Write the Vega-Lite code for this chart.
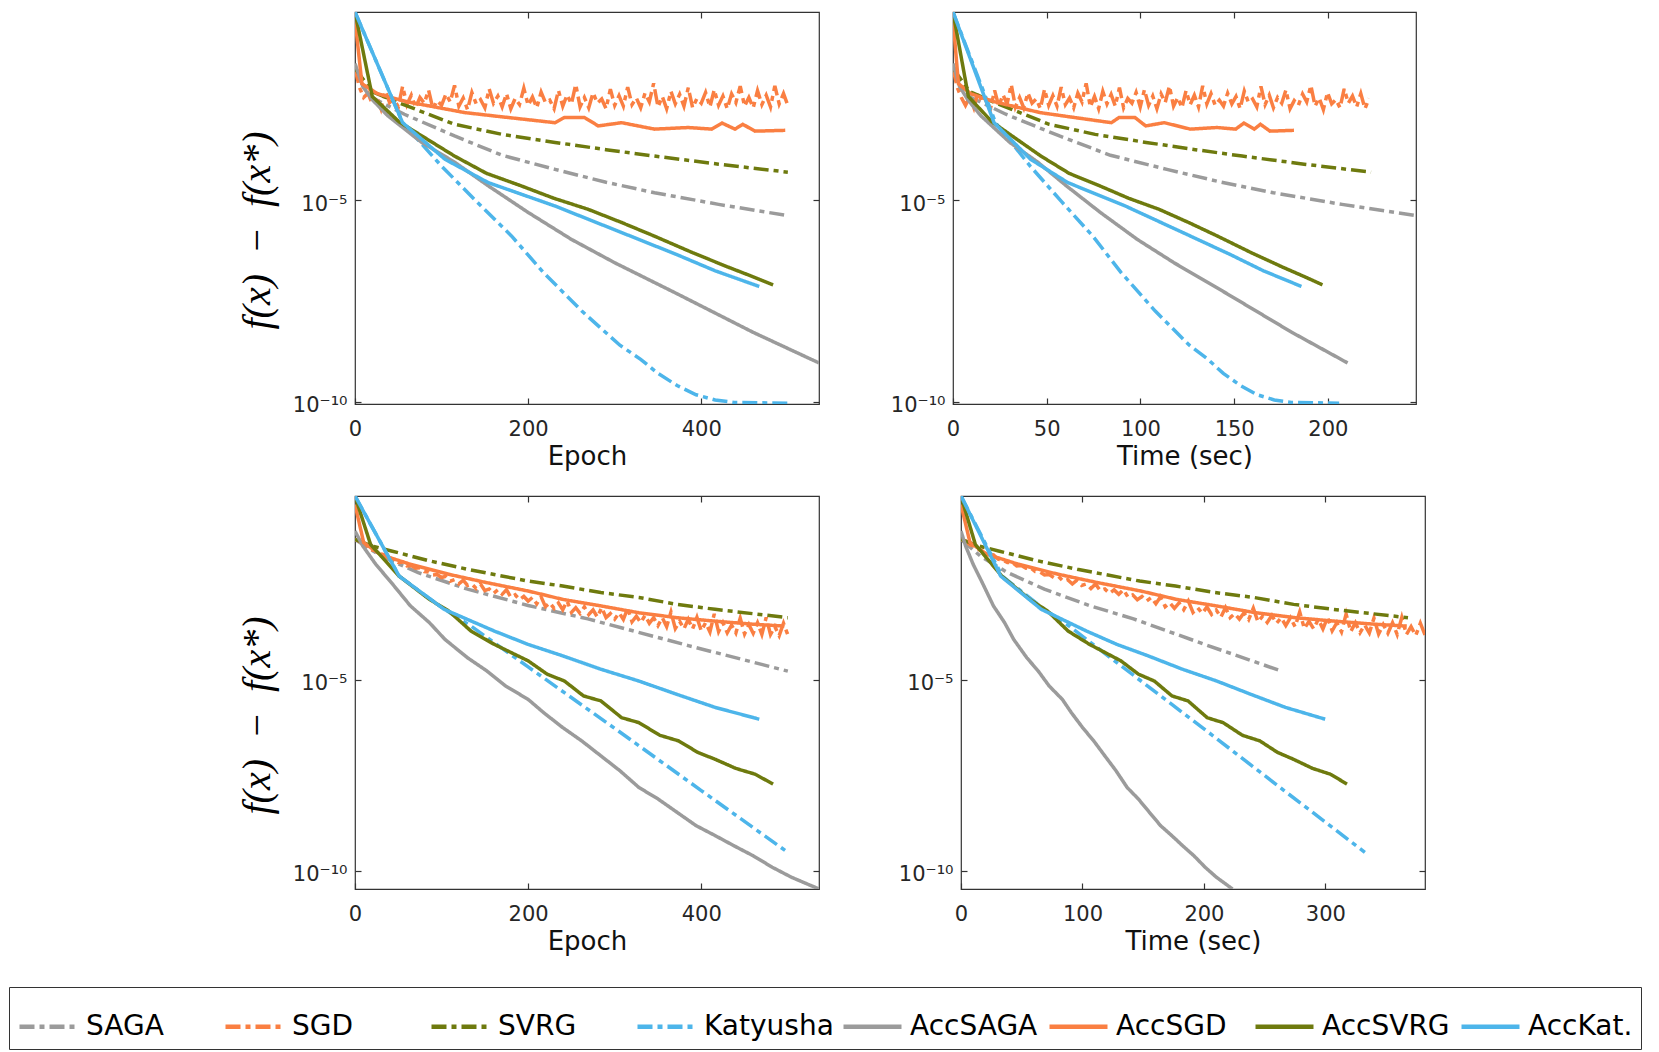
{
"$schema": "https://vega.github.io/schema/vega-lite/v6.json",
"background": "white",
"padding": {"left": 8, "top": 10, "right": 0, "bottom": 0},
"config": {
  "font": "DejaVu Sans",
  "view": {"stroke": "#333333", "strokeWidth": 1.2},
  "axis": {"grid": false, "domain": false, "tickColor": "#333333", "tickSize": -6, "tickWidth": 1.2, "labelFont": "DejaVu Sans", "labelFontSize": 21, "labelColor": "#262626", "labelFlush": false, "titleFont": "DejaVu Sans", "titleFontSize": 26, "titleFontWeight": "normal", "titleColor": "#111111"},
  "axisX": {"labelPadding": 20, "titlePadding": 4},
  "axisY": {"labelPadding": 14, "labelOffset": 4},
  "legend": {"orient": "none", "legendX": -346, "legendY": 975, "direction": "horizontal", "columns": 8, "title": null, "symbolType": "stroke", "symbolSize": 3364, "symbolStrokeWidth": 4.5, "labelFontSize": 28, "labelFont": "DejaVu Sans", "labelColor": "#000000", "labelOffset": 6, "columnPadding": 0, "gridAlign": "all", "strokeColor": "#333333", "fillColor": "#ffffff", "padding": 8, "labelLimit": 300}
},
"datasets": {
"p1": [
{"m":"SAGA","x":0,"y":1.905e-2},{"m":"SAGA","x":9,"y":6.761e-3},{"m":"SAGA","x":20,"y":3.548e-3},{"m":"SAGA","x":57,"y":1.380e-3},{"m":"SAGA","x":115,"y":3.981e-4},{"m":"SAGA","x":170,"y":1.318e-4},{"m":"SAGA","x":231,"y":5.888e-5},{"m":"SAGA","x":290,"y":2.818e-5},{"m":"SAGA","x":346,"y":1.549e-5},{"m":"SAGA","x":420,"y":7.943e-6},{"m":"SAGA","x":500,"y":4.169e-6},
{"m":"SGD","x":0,"y":1.905e-2},{"m":"SGD","x":5,"y":6.5e-3},{"m":"SGD","x":10,"y":3.6e-3},{"m":"SGD","x":15,"y":4.6e-3},{"m":"SGD","x":20,"y":2.5e-3},{"m":"SGD","x":25,"y":3.8e-3},{"m":"SGD","x":30,"y":1.9e-3},{"m":"SGD","x":35,"y":5.2e-3},{"m":"SGD","x":40,"y":2.7e-3},{"m":"SGD","x":45,"y":3.3e-3},{"m":"SGD","x":50,"y":2.1e-3},{"m":"SGD","x":55,"y":6.8e-3},{"m":"SGD","x":60,"y":2.4e-3},{"m":"SGD","x":65,"y":4.1e-3},{"m":"SGD","x":70,"y":2.0e-3},{"m":"SGD","x":75,"y":3.6e-3},{"m":"SGD","x":80,"y":2.6e-3},{"m":"SGD","x":85,"y":5.5e-3},{"m":"SGD","x":90,"y":1.9e-3},{"m":"SGD","x":95,"y":3.0e-3},{"m":"SGD","x":100,"y":2.3e-3},{"m":"SGD","x":105,"y":4.4e-3},{"m":"SGD","x":110,"y":2.8e-3},{"m":"SGD","x":115,"y":7.2e-3},{"m":"SGD","x":120,"y":2.2e-3},{"m":"SGD","x":125,"y":3.5e-3},{"m":"SGD","x":130,"y":1.8e-3},{"m":"SGD","x":135,"y":4.8e-3},{"m":"SGD","x":140,"y":2.5e-3},{"m":"SGD","x":145,"y":3.2e-3},{"m":"SGD","x":150,"y":2.0e-3},{"m":"SGD","x":155,"y":5.9e-3},{"m":"SGD","x":160,"y":2.6e-3},{"m":"SGD","x":165,"y":3.9e-3},{"m":"SGD","x":170,"y":2.1e-3},{"m":"SGD","x":175,"y":4.5e-3},{"m":"SGD","x":180,"y":1.9e-3},{"m":"SGD","x":185,"y":3.4e-3},{"m":"SGD","x":190,"y":2.4e-3},{"m":"SGD","x":195,"y":6.1e-3},{"m":"SGD","x":200,"y":2.3e-3},{"m":"SGD","x":205,"y":3.7e-3},{"m":"SGD","x":210,"y":2.0e-3},{"m":"SGD","x":215,"y":4.9e-3},{"m":"SGD","x":220,"y":2.7e-3},{"m":"SGD","x":225,"y":3.1e-3},{"m":"SGD","x":230,"y":1.9e-3},{"m":"SGD","x":235,"y":5.4e-3},{"m":"SGD","x":240,"y":2.2e-3},{"m":"SGD","x":245,"y":4.2e-3},{"m":"SGD","x":250,"y":2.5e-3},{"m":"SGD","x":255,"y":7.6e-3},{"m":"SGD","x":260,"y":2.1e-3},{"m":"SGD","x":265,"y":3.6e-3},{"m":"SGD","x":270,"y":2.0e-3},{"m":"SGD","x":275,"y":4.7e-3},{"m":"SGD","x":280,"y":2.6e-3},{"m":"SGD","x":285,"y":3.3e-3},{"m":"SGD","x":290,"y":1.9e-3},{"m":"SGD","x":295,"y":5.8e-3},{"m":"SGD","x":300,"y":2.3e-3},{"m":"SGD","x":305,"y":4.0e-3},{"m":"SGD","x":310,"y":2.2e-3},{"m":"SGD","x":315,"y":6.5e-3},{"m":"SGD","x":320,"y":2.4e-3},{"m":"SGD","x":325,"y":3.5e-3},{"m":"SGD","x":330,"y":2.0e-3},{"m":"SGD","x":335,"y":4.6e-3},{"m":"SGD","x":340,"y":2.8e-3},{"m":"SGD","x":345,"y":8.1e-3},{"m":"SGD","x":350,"y":2.1e-3},{"m":"SGD","x":355,"y":3.8e-3},{"m":"SGD","x":360,"y":1.9e-3},{"m":"SGD","x":365,"y":5.1e-3},{"m":"SGD","x":370,"y":2.5e-3},{"m":"SGD","x":375,"y":4.3e-3},{"m":"SGD","x":380,"y":2.2e-3},{"m":"SGD","x":385,"y":6.3e-3},{"m":"SGD","x":390,"y":2.0e-3},{"m":"SGD","x":395,"y":3.4e-3},{"m":"SGD","x":400,"y":2.6e-3},{"m":"SGD","x":405,"y":4.8e-3},{"m":"SGD","x":410,"y":2.1e-3},{"m":"SGD","x":415,"y":5.6e-3},{"m":"SGD","x":420,"y":2.3e-3},{"m":"SGD","x":425,"y":3.9e-3},{"m":"SGD","x":430,"y":1.9e-3},{"m":"SGD","x":435,"y":4.4e-3},{"m":"SGD","x":440,"y":2.7e-3},{"m":"SGD","x":445,"y":6.9e-3},{"m":"SGD","x":450,"y":2.2e-3},{"m":"SGD","x":455,"y":3.6e-3},{"m":"SGD","x":460,"y":2.0e-3},{"m":"SGD","x":465,"y":5.3e-3},{"m":"SGD","x":470,"y":2.4e-3},{"m":"SGD","x":475,"y":4.1e-3},{"m":"SGD","x":480,"y":2.1e-3},{"m":"SGD","x":485,"y":7.0e-3},{"m":"SGD","x":490,"y":2.5e-3},{"m":"SGD","x":495,"y":4.5e-3},{"m":"SGD","x":500,"y":2.3e-3},
{"m":"SVRG","x":0,"y":1.905e-2},{"m":"SVRG","x":20,"y":5.012e-3},{"m":"SVRG","x":50,"y":2.692e-3},{"m":"SVRG","x":115,"y":7.762e-4},{"m":"SVRG","x":170,"y":4.365e-4},{"m":"SVRG","x":231,"y":2.754e-4},{"m":"SVRG","x":290,"y":1.820e-4},{"m":"SVRG","x":346,"y":1.259e-4},{"m":"SVRG","x":420,"y":7.943e-5},{"m":"SVRG","x":500,"y":5.012e-5},
{"m":"Katyusha","x":0,"y":0.4786},{"m":"Katyusha","x":55,"y":8.511e-4},{"m":"Katyusha","x":100,"y":7.079e-5},{"m":"Katyusha","x":140,"y":9.550e-6},{"m":"Katyusha","x":181,"y":1.288e-6},{"m":"Katyusha","x":218,"y":1.585e-7},{"m":"Katyusha","x":262,"y":1.778e-8},{"m":"Katyusha","x":306,"y":2.512e-9},{"m":"Katyusha","x":330,"y":1.122e-9},{"m":"Katyusha","x":350,"y":5.012e-10},{"m":"Katyusha","x":372,"y":2.512e-10},{"m":"Katyusha","x":394,"y":1.479e-10},{"m":"Katyusha","x":416,"y":1.096e-10},{"m":"Katyusha","x":438,"y":9.550e-11},{"m":"Katyusha","x":500,"y":9.120e-11},
{"m":"AccSAGA","x":0,"y":2.512e-2},{"m":"AccSAGA","x":9,"y":6.761e-3},{"m":"AccSAGA","x":20,"y":3.162e-3},{"m":"AccSAGA","x":38,"y":1.259e-3},{"m":"AccSAGA","x":77,"y":2.754e-4},{"m":"AccSAGA","x":115,"y":8.913e-5},{"m":"AccSAGA","x":154,"y":2.291e-5},{"m":"AccSAGA","x":200,"y":5.012e-6},{"m":"AccSAGA","x":250,"y":1.072e-6},{"m":"AccSAGA","x":300,"y":2.818e-7},{"m":"AccSAGA","x":372,"y":4.786e-8},{"m":"AccSAGA","x":416,"y":1.585e-8},{"m":"AccSAGA","x":460,"y":5.248e-9},{"m":"AccSAGA","x":536,"y":9.120e-10},
{"m":"AccSGD","x":0,"y":0.3162},{"m":"AccSGD","x":8,"y":7.943e-3},{"m":"AccSGD","x":26,"y":4.467e-3},{"m":"AccSGD","x":60,"y":2.818e-3},{"m":"AccSGD","x":127,"y":1.514e-3},{"m":"AccSGD","x":168,"y":1.202e-3},{"m":"AccSGD","x":231,"y":8.511e-4},{"m":"AccSGD","x":242,"y":1.148e-3},{"m":"AccSGD","x":265,"y":1.148e-3},{"m":"AccSGD","x":281,"y":7.079e-4},{"m":"AccSGD","x":308,"y":8.511e-4},{"m":"AccSGD","x":346,"y":5.888e-4},{"m":"AccSGD","x":385,"y":6.457e-4},{"m":"AccSGD","x":412,"y":5.888e-4},{"m":"AccSGD","x":424,"y":8.318e-4},{"m":"AccSGD","x":439,"y":5.888e-4},{"m":"AccSGD","x":448,"y":7.762e-4},{"m":"AccSGD","x":462,"y":5.248e-4},{"m":"AccSGD","x":497,"y":5.495e-4},
{"m":"AccSVRG","x":0,"y":0.4786},{"m":"AccSVRG","x":20,"y":3.802e-3},{"m":"AccSVRG","x":51,"y":8.913e-4},{"m":"AccSVRG","x":115,"y":1.259e-4},{"m":"AccSVRG","x":152,"y":4.677e-5},{"m":"AccSVRG","x":192,"y":2.291e-5},{"m":"AccSVRG","x":230,"y":1.122e-5},{"m":"AccSVRG","x":269,"y":6.026e-6},{"m":"AccSVRG","x":308,"y":2.818e-6},{"m":"AccSVRG","x":346,"y":1.288e-6},{"m":"AccSVRG","x":390,"y":5.012e-7},{"m":"AccSVRG","x":430,"y":2.239e-7},{"m":"AccSVRG","x":460,"y":1.259e-7},{"m":"AccSVRG","x":483,"y":7.943e-8},
{"m":"AccKat.","x":0,"y":0.4786},{"m":"AccKat.","x":55,"y":8.511e-4},{"m":"AccKat.","x":104,"y":1.047e-4},{"m":"AccKat.","x":154,"y":2.754e-5},{"m":"AccKat.","x":231,"y":7.244e-6},{"m":"AccKat.","x":308,"y":1.585e-6},{"m":"AccKat.","x":372,"y":4.467e-7},{"m":"AccKat.","x":416,"y":1.778e-7},{"m":"AccKat.","x":467,"y":7.244e-8}
],
"p2": [
{"m":"SAGA","x":0,"y":1.905e-2},{"m":"SAGA","x":4.4,"y":6.761e-3},{"m":"SAGA","x":9.9,"y":3.548e-3},{"m":"SAGA","x":28.2,"y":1.380e-3},{"m":"SAGA","x":56.8,"y":3.981e-4},{"m":"SAGA","x":84.0,"y":1.318e-4},{"m":"SAGA","x":114.1,"y":5.888e-5},{"m":"SAGA","x":143.3,"y":2.818e-5},{"m":"SAGA","x":170.9,"y":1.549e-5},{"m":"SAGA","x":207.5,"y":7.943e-6},{"m":"SAGA","x":247,"y":4.169e-6},
{"m":"SGD","x":0,"y":1.905e-2},{"m":"SGD","x":2.22,"y":6.5e-3},{"m":"SGD","x":4.44,"y":3.6e-3},{"m":"SGD","x":6.66,"y":2.3e-3},{"m":"SGD","x":8.88,"y":3.7e-3},{"m":"SGD","x":11.1,"y":2.0e-3},{"m":"SGD","x":13.32,"y":4.9e-3},{"m":"SGD","x":15.54,"y":2.7e-3},{"m":"SGD","x":17.76,"y":3.1e-3},{"m":"SGD","x":19.98,"y":1.9e-3},{"m":"SGD","x":22.2,"y":5.4e-3},{"m":"SGD","x":24.42,"y":2.2e-3},{"m":"SGD","x":26.64,"y":4.2e-3},{"m":"SGD","x":28.86,"y":2.5e-3},{"m":"SGD","x":31.08,"y":7.6e-3},{"m":"SGD","x":33.3,"y":2.1e-3},{"m":"SGD","x":35.52,"y":3.6e-3},{"m":"SGD","x":37.74,"y":2.0e-3},{"m":"SGD","x":39.96,"y":4.7e-3},{"m":"SGD","x":42.18,"y":2.6e-3},{"m":"SGD","x":44.4,"y":3.3e-3},{"m":"SGD","x":46.62,"y":1.9e-3},{"m":"SGD","x":48.84,"y":5.8e-3},{"m":"SGD","x":51.06,"y":2.3e-3},{"m":"SGD","x":53.28,"y":4.0e-3},{"m":"SGD","x":55.5,"y":2.2e-3},{"m":"SGD","x":57.72,"y":6.5e-3},{"m":"SGD","x":59.94,"y":2.4e-3},{"m":"SGD","x":62.16,"y":3.5e-3},{"m":"SGD","x":64.38,"y":2.0e-3},{"m":"SGD","x":66.6,"y":4.6e-3},{"m":"SGD","x":68.82,"y":2.8e-3},{"m":"SGD","x":71.04,"y":8.1e-3},{"m":"SGD","x":73.26,"y":2.1e-3},{"m":"SGD","x":75.48,"y":3.8e-3},{"m":"SGD","x":77.7,"y":1.9e-3},{"m":"SGD","x":79.92,"y":5.1e-3},{"m":"SGD","x":82.14,"y":2.5e-3},{"m":"SGD","x":84.36,"y":4.3e-3},{"m":"SGD","x":86.58,"y":2.2e-3},{"m":"SGD","x":88.8,"y":6.3e-3},{"m":"SGD","x":91.02,"y":2.0e-3},{"m":"SGD","x":93.24,"y":3.4e-3},{"m":"SGD","x":95.46,"y":2.6e-3},{"m":"SGD","x":97.68,"y":4.8e-3},{"m":"SGD","x":99.9,"y":2.1e-3},{"m":"SGD","x":102.12,"y":5.6e-3},{"m":"SGD","x":104.34,"y":2.3e-3},{"m":"SGD","x":106.56,"y":3.9e-3},{"m":"SGD","x":108.78,"y":1.9e-3},{"m":"SGD","x":111,"y":4.4e-3},{"m":"SGD","x":113.22,"y":2.7e-3},{"m":"SGD","x":115.44,"y":6.9e-3},{"m":"SGD","x":117.66,"y":2.2e-3},{"m":"SGD","x":119.88,"y":3.6e-3},{"m":"SGD","x":122.1,"y":2.0e-3},{"m":"SGD","x":124.32,"y":5.3e-3},{"m":"SGD","x":126.54,"y":2.4e-3},{"m":"SGD","x":128.76,"y":4.1e-3},{"m":"SGD","x":130.98,"y":2.1e-3},{"m":"SGD","x":133.2,"y":7.0e-3},{"m":"SGD","x":135.42,"y":2.5e-3},{"m":"SGD","x":137.64,"y":4.5e-3},{"m":"SGD","x":139.86,"y":2.3e-3},{"m":"SGD","x":142.08,"y":3.1e-3},{"m":"SGD","x":144.3,"y":2.2e-3},{"m":"SGD","x":146.52,"y":4.6e-3},{"m":"SGD","x":148.74,"y":2.5e-3},{"m":"SGD","x":150.96,"y":3.8e-3},{"m":"SGD","x":153.18,"y":1.9e-3},{"m":"SGD","x":155.4,"y":5.2e-3},{"m":"SGD","x":157.62,"y":2.7e-3},{"m":"SGD","x":159.84,"y":3.3e-3},{"m":"SGD","x":162.06,"y":2.1e-3},{"m":"SGD","x":164.28,"y":6.8e-3},{"m":"SGD","x":166.5,"y":2.4e-3},{"m":"SGD","x":168.72,"y":4.1e-3},{"m":"SGD","x":170.94,"y":2.0e-3},{"m":"SGD","x":173.16,"y":3.6e-3},{"m":"SGD","x":175.38,"y":2.6e-3},{"m":"SGD","x":177.6,"y":5.5e-3},{"m":"SGD","x":179.82,"y":1.9e-3},{"m":"SGD","x":182.04,"y":3.0e-3},{"m":"SGD","x":184.26,"y":2.3e-3},{"m":"SGD","x":186.48,"y":4.4e-3},{"m":"SGD","x":188.7,"y":2.8e-3},{"m":"SGD","x":190.92,"y":7.2e-3},{"m":"SGD","x":193.14,"y":2.2e-3},{"m":"SGD","x":195.36,"y":3.5e-3},{"m":"SGD","x":197.58,"y":1.8e-3},{"m":"SGD","x":199.8,"y":4.8e-3},{"m":"SGD","x":202.02,"y":2.5e-3},{"m":"SGD","x":204.24,"y":3.2e-3},{"m":"SGD","x":206.46,"y":2.0e-3},{"m":"SGD","x":208.68,"y":5.9e-3},{"m":"SGD","x":210.9,"y":2.6e-3},{"m":"SGD","x":213.12,"y":3.9e-3},{"m":"SGD","x":215.34,"y":2.1e-3},{"m":"SGD","x":217.56,"y":4.5e-3},{"m":"SGD","x":219.78,"y":1.9e-3},{"m":"SGD","x":222,"y":3.4e-3},
{"m":"SVRG","x":0,"y":1.905e-2},{"m":"SVRG","x":8.9,"y":5.012e-3},{"m":"SVRG","x":22.3,"y":2.692e-3},{"m":"SVRG","x":51.3,"y":7.762e-4},{"m":"SVRG","x":75.8,"y":4.365e-4},{"m":"SVRG","x":103.0,"y":2.754e-4},{"m":"SVRG","x":129.3,"y":1.820e-4},{"m":"SVRG","x":154.3,"y":1.259e-4},{"m":"SVRG","x":187.3,"y":7.943e-5},{"m":"SVRG","x":223,"y":5.012e-5},
{"m":"Katyusha","x":0,"y":0.4786},{"m":"Katyusha","x":22.7,"y":8.511e-4},{"m":"Katyusha","x":41.2,"y":7.079e-5},{"m":"Katyusha","x":57.7,"y":9.550e-6},{"m":"Katyusha","x":74.6,"y":1.288e-6},{"m":"Katyusha","x":89.8,"y":1.585e-7},{"m":"Katyusha","x":107.9,"y":1.778e-8},{"m":"Katyusha","x":126.1,"y":2.512e-9},{"m":"Katyusha","x":136.0,"y":1.122e-9},{"m":"Katyusha","x":144.2,"y":5.012e-10},{"m":"Katyusha","x":153.3,"y":2.512e-10},{"m":"Katyusha","x":162.3,"y":1.479e-10},{"m":"Katyusha","x":171.4,"y":1.096e-10},{"m":"Katyusha","x":180.5,"y":9.550e-11},{"m":"Katyusha","x":206,"y":9.120e-11},
{"m":"AccSAGA","x":0,"y":2.512e-2},{"m":"AccSAGA","x":3.5,"y":6.761e-3},{"m":"AccSAGA","x":7.9,"y":3.162e-3},{"m":"AccSAGA","x":14.9,"y":1.259e-3},{"m":"AccSAGA","x":30.3,"y":2.754e-4},{"m":"AccSAGA","x":45.2,"y":8.913e-5},{"m":"AccSAGA","x":60.5,"y":2.291e-5},{"m":"AccSAGA","x":78.6,"y":5.012e-6},{"m":"AccSAGA","x":98.3,"y":1.072e-6},{"m":"AccSAGA","x":117.9,"y":2.818e-7},{"m":"AccSAGA","x":146.2,"y":4.786e-8},{"m":"AccSAGA","x":163.5,"y":1.585e-8},{"m":"AccSAGA","x":180.8,"y":5.248e-9},{"m":"AccSAGA","x":210.5,"y":9.120e-10},
{"m":"AccSGD","x":0,"y":0.3162},{"m":"AccSGD","x":2.9,"y":7.943e-3},{"m":"AccSGD","x":9.5,"y":4.467e-3},{"m":"AccSGD","x":22.0,"y":2.818e-3},{"m":"AccSGD","x":46.5,"y":1.514e-3},{"m":"AccSGD","x":61.5,"y":1.202e-3},{"m":"AccSGD","x":84.5,"y":8.511e-4},{"m":"AccSGD","x":88.6,"y":1.148e-3},{"m":"AccSGD","x":97.0,"y":1.148e-3},{"m":"AccSGD","x":102.8,"y":7.079e-4},{"m":"AccSGD","x":112.7,"y":8.511e-4},{"m":"AccSGD","x":126.6,"y":5.888e-4},{"m":"AccSGD","x":140.9,"y":6.457e-4},{"m":"AccSGD","x":150.8,"y":5.888e-4},{"m":"AccSGD","x":155.2,"y":8.318e-4},{"m":"AccSGD","x":160.7,"y":5.888e-4},{"m":"AccSGD","x":164.0,"y":7.762e-4},{"m":"AccSGD","x":169.1,"y":5.248e-4},{"m":"AccSGD","x":181.9,"y":5.495e-4},
{"m":"AccSVRG","x":0,"y":0.4786},{"m":"AccSVRG","x":8.2,"y":3.802e-3},{"m":"AccSVRG","x":20.8,"y":8.913e-4},{"m":"AccSVRG","x":46.9,"y":1.259e-4},{"m":"AccSVRG","x":62.0,"y":4.677e-5},{"m":"AccSVRG","x":78.3,"y":2.291e-5},{"m":"AccSVRG","x":93.8,"y":1.122e-5},{"m":"AccSVRG","x":109.8,"y":6.026e-6},{"m":"AccSVRG","x":125.7,"y":2.818e-6},{"m":"AccSVRG","x":141.2,"y":1.288e-6},{"m":"AccSVRG","x":159.1,"y":5.012e-7},{"m":"AccSVRG","x":175.4,"y":2.239e-7},{"m":"AccSVRG","x":187.7,"y":1.259e-7},{"m":"AccSVRG","x":197.1,"y":7.943e-8},
{"m":"AccKat.","x":0,"y":0.4786},{"m":"AccKat.","x":21.9,"y":8.511e-4},{"m":"AccKat.","x":41.4,"y":1.047e-4},{"m":"AccKat.","x":61.3,"y":2.754e-5},{"m":"AccKat.","x":91.9,"y":7.244e-6},{"m":"AccKat.","x":122.6,"y":1.585e-6},{"m":"AccKat.","x":148.1,"y":4.467e-7},{"m":"AccKat.","x":165.6,"y":1.778e-7},{"m":"AccKat.","x":185.9,"y":7.244e-8}
],
"p3": [
{"m":"SAGA","x":0,"y":4.786e-2},{"m":"SAGA","x":30,"y":1.778e-2},{"m":"SAGA","x":73,"y":6.457e-3},{"m":"SAGA","x":130,"y":2.399e-3},{"m":"SAGA","x":200,"y":8.913e-4},{"m":"SAGA","x":269,"y":3.981e-4},{"m":"SAGA","x":385,"y":7.943e-5},{"m":"SAGA","x":500,"y":1.698e-5},
{"m":"SGD","x":0,"y":4.79e-2},{"m":"SGD","x":5,"y":4.35e-2},{"m":"SGD","x":10,"y":3.44e-2},{"m":"SGD","x":15,"y":3.19e-2},{"m":"SGD","x":20,"y":2.52e-2},{"m":"SGD","x":25,"y":2.45e-2},{"m":"SGD","x":30,"y":1.99e-2},{"m":"SGD","x":35,"y":1.89e-2},{"m":"SGD","x":40,"y":1.46e-2},{"m":"SGD","x":45,"y":1.40e-2},{"m":"SGD","x":50,"y":1.19e-2},{"m":"SGD","x":55,"y":1.22e-2},{"m":"SGD","x":60,"y":9.73e-3},{"m":"SGD","x":65,"y":9.98e-3},{"m":"SGD","x":70,"y":8.49e-3},{"m":"SGD","x":75,"y":8.71e-3},{"m":"SGD","x":80,"y":6.92e-3},{"m":"SGD","x":85,"y":6.78e-3},{"m":"SGD","x":90,"y":5.65e-3},{"m":"SGD","x":95,"y":5.78e-3},{"m":"SGD","x":100,"y":4.82e-3},{"m":"SGD","x":105,"y":5.18e-3},{"m":"SGD","x":110,"y":3.87e-3},{"m":"SGD","x":115,"y":4.24e-3},{"m":"SGD","x":120,"y":3.28e-3},{"m":"SGD","x":125,"y":4.12e-3},{"m":"SGD","x":130,"y":2.99e-3},{"m":"SGD","x":135,"y":3.27e-3},{"m":"SGD","x":140,"y":2.48e-3},{"m":"SGD","x":145,"y":3.26e-3},{"m":"SGD","x":150,"y":2.20e-3},{"m":"SGD","x":155,"y":2.42e-3},{"m":"SGD","x":160,"y":1.85e-3},{"m":"SGD","x":165,"y":2.29e-3},{"m":"SGD","x":170,"y":1.75e-3},{"m":"SGD","x":175,"y":2.32e-3},{"m":"SGD","x":180,"y":1.47e-3},{"m":"SGD","x":185,"y":1.70e-3},{"m":"SGD","x":190,"y":1.27e-3},{"m":"SGD","x":195,"y":1.54e-3},{"m":"SGD","x":200,"y":1.17e-3},{"m":"SGD","x":205,"y":1.45e-3},{"m":"SGD","x":210,"y":9.89e-4},{"m":"SGD","x":215,"y":1.50e-3},{"m":"SGD","x":220,"y":8.32e-4},{"m":"SGD","x":225,"y":1.05e-3},{"m":"SGD","x":230,"y":7.50e-4},{"m":"SGD","x":235,"y":1.04e-3},{"m":"SGD","x":240,"y":6.92e-4},{"m":"SGD","x":245,"y":1.17e-3},{"m":"SGD","x":250,"y":5.90e-4},{"m":"SGD","x":255,"y":7.80e-4},{"m":"SGD","x":260,"y":5.53e-4},{"m":"SGD","x":265,"y":8.18e-4},{"m":"SGD","x":270,"y":5.18e-4},{"m":"SGD","x":275,"y":6.84e-4},{"m":"SGD","x":280,"y":4.42e-4},{"m":"SGD","x":285,"y":7.89e-4},{"m":"SGD","x":290,"y":4.29e-4},{"m":"SGD","x":295,"y":5.47e-4},{"m":"SGD","x":300,"y":3.92e-4},{"m":"SGD","x":305,"y":5.73e-4},{"m":"SGD","x":310,"y":3.83e-4},{"m":"SGD","x":315,"y":7.57e-4},{"m":"SGD","x":320,"y":3.34e-4},{"m":"SGD","x":325,"y":4.67e-4},{"m":"SGD","x":330,"y":3.19e-4},{"m":"SGD","x":335,"y":4.90e-4},{"m":"SGD","x":340,"y":3.05e-4},{"m":"SGD","x":345,"y":4.27e-4},{"m":"SGD","x":350,"y":2.66e-4},{"m":"SGD","x":355,"y":4.27e-4},{"m":"SGD","x":360,"y":2.48e-4},{"m":"SGD","x":365,"y":6.03e-4},{"m":"SGD","x":370,"y":2.22e-4},{"m":"SGD","x":375,"y":3.44e-4},{"m":"SGD","x":380,"y":2.18e-4},{"m":"SGD","x":385,"y":3.87e-4},{"m":"SGD","x":390,"y":2.18e-4},{"m":"SGD","x":395,"y":4.35e-4},{"m":"SGD","x":400,"y":1.94e-4},{"m":"SGD","x":405,"y":3.15e-4},{"m":"SGD","x":410,"y":1.81e-4},{"m":"SGD","x":415,"y":5.35e-4},{"m":"SGD","x":420,"y":1.85e-4},{"m":"SGD","x":425,"y":3.16e-4},{"m":"SGD","x":430,"y":1.72e-4},{"m":"SGD","x":435,"y":2.75e-4},{"m":"SGD","x":440,"y":1.71e-4},{"m":"SGD","x":445,"y":4.16e-4},{"m":"SGD","x":450,"y":1.60e-4},{"m":"SGD","x":455,"y":2.81e-4},{"m":"SGD","x":460,"y":1.67e-4},{"m":"SGD","x":465,"y":3.14e-4},{"m":"SGD","x":470,"y":1.56e-4},{"m":"SGD","x":475,"y":4.34e-4},{"m":"SGD","x":480,"y":1.55e-4},{"m":"SGD","x":485,"y":2.49e-4},{"m":"SGD","x":490,"y":1.45e-4},{"m":"SGD","x":495,"y":3.06e-4},{"m":"SGD","x":500,"y":1.51e-4},
{"m":"SVRG","x":0,"y":4.786e-2},{"m":"SVRG","x":20,"y":3.236e-2},{"m":"SVRG","x":42,"y":2.399e-2},{"m":"SVRG","x":86,"y":1.318e-2},{"m":"SVRG","x":130,"y":7.943e-3},{"m":"SVRG","x":200,"y":3.890e-3},{"m":"SVRG","x":240,"y":2.884e-3},{"m":"SVRG","x":284,"y":1.950e-3},{"m":"SVRG","x":328,"y":1.445e-3},{"m":"SVRG","x":372,"y":9.550e-4},{"m":"SVRG","x":416,"y":7.079e-4},{"m":"SVRG","x":500,"y":4.266e-4},
{"m":"Katyusha","x":0,"y":0.6607},{"m":"Katyusha","x":51,"y":5.248e-3},{"m":"Katyusha","x":100,"y":7.943e-4},{"m":"Katyusha","x":134,"y":2.570e-4},{"m":"Katyusha","x":200,"y":2.188e-5},{"m":"Katyusha","x":300,"y":5.370e-7},{"m":"Katyusha","x":400,"y":1.259e-8},{"m":"Katyusha","x":500,"y":3.020e-10},
{"m":"AccSAGA","x":0,"y":7.943e-2},{"m":"AccSAGA","x":9,"y":3.236e-2},{"m":"AccSAGA","x":24,"y":1.072e-2},{"m":"AccSAGA","x":42,"y":3.548e-3},{"m":"AccSAGA","x":64,"y":8.710e-4},{"m":"AccSAGA","x":86,"y":3.162e-4},{"m":"AccSAGA","x":104,"y":1.148e-4},{"m":"AccSAGA","x":130,"y":3.802e-5},{"m":"AccSAGA","x":152,"y":1.738e-5},{"m":"AccSAGA","x":174,"y":6.918e-6},{"m":"AccSAGA","x":200,"y":3.090e-6},{"m":"AccSAGA","x":218,"y":1.380e-6},{"m":"AccSAGA","x":240,"y":5.623e-7},{"m":"AccSAGA","x":262,"y":2.512e-7},{"m":"AccSAGA","x":284,"y":1.023e-7},{"m":"AccSAGA","x":306,"y":4.169e-8},{"m":"AccSAGA","x":328,"y":1.514e-8},{"m":"AccSAGA","x":350,"y":7.586e-9},{"m":"AccSAGA","x":372,"y":3.388e-9},{"m":"AccSAGA","x":394,"y":1.514e-9},{"m":"AccSAGA","x":416,"y":8.318e-10},{"m":"AccSAGA","x":438,"y":4.467e-10},{"m":"AccSAGA","x":460,"y":2.455e-10},{"m":"AccSAGA","x":482,"y":1.230e-10},{"m":"AccSAGA","x":504,"y":6.761e-11},{"m":"AccSAGA","x":536,"y":3.311e-11},
{"m":"AccSGD","x":0,"y":0.3981},{"m":"AccSGD","x":10,"y":3.981e-2},{"m":"AccSGD","x":29,"y":1.950e-2},{"m":"AccSGD","x":64,"y":1.072e-2},{"m":"AccSGD","x":108,"y":5.888e-3},{"m":"AccSGD","x":152,"y":3.548e-3},{"m":"AccSGD","x":200,"y":2.138e-3},{"m":"AccSGD","x":240,"y":1.288e-3},{"m":"AccSGD","x":284,"y":8.710e-4},{"m":"AccSGD","x":328,"y":5.754e-4},{"m":"AccSGD","x":372,"y":4.266e-4},{"m":"AccSGD","x":416,"y":3.467e-4},{"m":"AccSGD","x":460,"y":2.884e-4},{"m":"AccSGD","x":496,"y":2.570e-4},
{"m":"AccSVRG","x":0,"y":0.6607},{"m":"AccSVRG","x":18,"y":3.548e-2},{"m":"AccSVRG","x":51,"y":5.248e-3},{"m":"AccSVRG","x":86,"y":1.288e-3},{"m":"AccSVRG","x":108,"y":6.457e-4},{"m":"AccSVRG","x":134,"y":1.905e-4},{"m":"AccSVRG","x":161,"y":8.511e-5},{"m":"AccSVRG","x":200,"y":3.162e-5},{"m":"AccSVRG","x":222,"y":1.413e-5},{"m":"AccSVRG","x":242,"y":9.333e-6},{"m":"AccSVRG","x":264,"y":3.802e-6},{"m":"AccSVRG","x":284,"y":2.818e-6},{"m":"AccSVRG","x":308,"y":1.023e-6},{"m":"AccSVRG","x":328,"y":7.586e-7},{"m":"AccSVRG","x":352,"y":3.548e-7},{"m":"AccSVRG","x":374,"y":2.512e-7},{"m":"AccSVRG","x":396,"y":1.259e-7},{"m":"AccSVRG","x":416,"y":8.318e-8},{"m":"AccSVRG","x":440,"y":4.786e-8},{"m":"AccSVRG","x":462,"y":3.388e-8},{"m":"AccSVRG","x":483,"y":1.862e-8},
{"m":"AccKat.","x":0,"y":0.6607},{"m":"AccKat.","x":51,"y":5.248e-3},{"m":"AccKat.","x":103,"y":7.079e-4},{"m":"AccKat.","x":161,"y":1.905e-4},{"m":"AccKat.","x":200,"y":8.511e-5},{"m":"AccKat.","x":240,"y":4.266e-5},{"m":"AccKat.","x":284,"y":1.905e-5},{"m":"AccKat.","x":328,"y":9.333e-6},{"m":"AccKat.","x":372,"y":4.169e-6},{"m":"AccKat.","x":416,"y":1.905e-6},{"m":"AccKat.","x":467,"y":9.333e-7}
],
"p4": [
{"m":"SAGA","x":0,"y":4.786e-2},{"m":"SAGA","x":15.8,"y":1.778e-2},{"m":"SAGA","x":38.5,"y":6.457e-3},{"m":"SAGA","x":68.6,"y":2.399e-3},{"m":"SAGA","x":105.6,"y":8.913e-4},{"m":"SAGA","x":142.0,"y":3.981e-4},{"m":"SAGA","x":203.3,"y":7.943e-5},{"m":"SAGA","x":264,"y":1.698e-5},
{"m":"SGD","x":0,"y":4.79e-2},{"m":"SGD","x":3.82,"y":4.35e-2},{"m":"SGD","x":7.64,"y":3.44e-2},{"m":"SGD","x":11.46,"y":3.19e-2},{"m":"SGD","x":15.28,"y":2.52e-2},{"m":"SGD","x":19.1,"y":2.45e-2},{"m":"SGD","x":22.92,"y":1.99e-2},{"m":"SGD","x":26.74,"y":1.89e-2},{"m":"SGD","x":30.56,"y":1.46e-2},{"m":"SGD","x":34.38,"y":1.40e-2},{"m":"SGD","x":38.2,"y":1.19e-2},{"m":"SGD","x":42.02,"y":1.22e-2},{"m":"SGD","x":45.84,"y":9.73e-3},{"m":"SGD","x":49.66,"y":9.98e-3},{"m":"SGD","x":53.48,"y":8.49e-3},{"m":"SGD","x":57.3,"y":8.71e-3},{"m":"SGD","x":61.12,"y":6.92e-3},{"m":"SGD","x":64.94,"y":6.78e-3},{"m":"SGD","x":68.76,"y":5.65e-3},{"m":"SGD","x":72.58,"y":5.78e-3},{"m":"SGD","x":76.4,"y":4.82e-3},{"m":"SGD","x":80.22,"y":5.18e-3},{"m":"SGD","x":84.04,"y":3.87e-3},{"m":"SGD","x":87.86,"y":4.24e-3},{"m":"SGD","x":91.68,"y":3.28e-3},{"m":"SGD","x":95.5,"y":4.12e-3},{"m":"SGD","x":99.32,"y":2.99e-3},{"m":"SGD","x":103.14,"y":3.27e-3},{"m":"SGD","x":106.96,"y":2.48e-3},{"m":"SGD","x":110.78,"y":3.26e-3},{"m":"SGD","x":114.6,"y":2.20e-3},{"m":"SGD","x":118.42,"y":2.42e-3},{"m":"SGD","x":122.24,"y":1.85e-3},{"m":"SGD","x":126.06,"y":2.29e-3},{"m":"SGD","x":129.88,"y":1.75e-3},{"m":"SGD","x":133.7,"y":2.32e-3},{"m":"SGD","x":137.52,"y":1.47e-3},{"m":"SGD","x":141.34,"y":1.70e-3},{"m":"SGD","x":145.16,"y":1.27e-3},{"m":"SGD","x":148.98,"y":1.54e-3},{"m":"SGD","x":152.8,"y":1.17e-3},{"m":"SGD","x":156.62,"y":1.45e-3},{"m":"SGD","x":160.44,"y":9.89e-4},{"m":"SGD","x":164.26,"y":1.50e-3},{"m":"SGD","x":168.08,"y":8.32e-4},{"m":"SGD","x":171.9,"y":1.05e-3},{"m":"SGD","x":175.72,"y":7.50e-4},{"m":"SGD","x":179.54,"y":1.04e-3},{"m":"SGD","x":183.36,"y":6.92e-4},{"m":"SGD","x":187.18,"y":1.17e-3},{"m":"SGD","x":191,"y":5.90e-4},{"m":"SGD","x":194.82,"y":7.80e-4},{"m":"SGD","x":198.64,"y":5.53e-4},{"m":"SGD","x":202.46,"y":8.18e-4},{"m":"SGD","x":206.28,"y":5.18e-4},{"m":"SGD","x":210.1,"y":6.84e-4},{"m":"SGD","x":213.92,"y":4.42e-4},{"m":"SGD","x":217.74,"y":7.89e-4},{"m":"SGD","x":221.56,"y":4.29e-4},{"m":"SGD","x":225.38,"y":5.47e-4},{"m":"SGD","x":229.2,"y":3.92e-4},{"m":"SGD","x":233.02,"y":5.73e-4},{"m":"SGD","x":236.84,"y":3.83e-4},{"m":"SGD","x":240.66,"y":7.57e-4},{"m":"SGD","x":244.48,"y":3.34e-4},{"m":"SGD","x":248.3,"y":4.67e-4},{"m":"SGD","x":252.12,"y":3.19e-4},{"m":"SGD","x":255.94,"y":4.90e-4},{"m":"SGD","x":259.76,"y":3.05e-4},{"m":"SGD","x":263.58,"y":4.27e-4},{"m":"SGD","x":267.4,"y":2.66e-4},{"m":"SGD","x":271.22,"y":4.27e-4},{"m":"SGD","x":275.04,"y":2.48e-4},{"m":"SGD","x":278.86,"y":6.03e-4},{"m":"SGD","x":282.68,"y":2.22e-4},{"m":"SGD","x":286.5,"y":3.44e-4},{"m":"SGD","x":290.32,"y":2.18e-4},{"m":"SGD","x":294.14,"y":3.87e-4},{"m":"SGD","x":297.96,"y":2.18e-4},{"m":"SGD","x":301.78,"y":4.35e-4},{"m":"SGD","x":305.6,"y":1.94e-4},{"m":"SGD","x":309.42,"y":3.15e-4},{"m":"SGD","x":313.24,"y":1.81e-4},{"m":"SGD","x":317.06,"y":5.35e-4},{"m":"SGD","x":320.88,"y":1.85e-4},{"m":"SGD","x":324.7,"y":3.16e-4},{"m":"SGD","x":328.52,"y":1.72e-4},{"m":"SGD","x":332.34,"y":2.75e-4},{"m":"SGD","x":336.16,"y":1.71e-4},{"m":"SGD","x":339.98,"y":4.16e-4},{"m":"SGD","x":343.8,"y":1.60e-4},{"m":"SGD","x":347.62,"y":2.81e-4},{"m":"SGD","x":351.44,"y":1.67e-4},{"m":"SGD","x":355.26,"y":3.14e-4},{"m":"SGD","x":359.08,"y":1.56e-4},{"m":"SGD","x":362.9,"y":4.34e-4},{"m":"SGD","x":366.72,"y":1.55e-4},{"m":"SGD","x":370.54,"y":2.49e-4},{"m":"SGD","x":374.36,"y":1.45e-4},{"m":"SGD","x":378.18,"y":3.06e-4},{"m":"SGD","x":382,"y":1.51e-4},
{"m":"SVRG","x":0,"y":4.786e-2},{"m":"SVRG","x":14.7,"y":3.236e-2},{"m":"SVRG","x":30.9,"y":2.399e-2},{"m":"SVRG","x":63.3,"y":1.318e-2},{"m":"SVRG","x":95.7,"y":7.943e-3},{"m":"SVRG","x":147.2,"y":3.890e-3},{"m":"SVRG","x":176.6,"y":2.884e-3},{"m":"SVRG","x":209.0,"y":1.950e-3},{"m":"SVRG","x":241.4,"y":1.445e-3},{"m":"SVRG","x":273.8,"y":9.550e-4},{"m":"SVRG","x":306.2,"y":7.079e-4},{"m":"SVRG","x":368,"y":4.266e-4},
{"m":"Katyusha","x":0,"y":0.6607},{"m":"Katyusha","x":33.9,"y":5.248e-3},{"m":"Katyusha","x":66.5,"y":7.943e-4},{"m":"Katyusha","x":89.1,"y":2.570e-4},{"m":"Katyusha","x":133,"y":2.188e-5},{"m":"Katyusha","x":199.5,"y":5.370e-7},{"m":"Katyusha","x":266,"y":1.259e-8},{"m":"Katyusha","x":332.5,"y":3.020e-10},
{"m":"AccSAGA","x":0,"y":7.943e-2},{"m":"AccSAGA","x":3.8,"y":3.236e-2},{"m":"AccSAGA","x":10.0,"y":1.072e-2},{"m":"AccSAGA","x":17.5,"y":3.548e-3},{"m":"AccSAGA","x":26.7,"y":8.710e-4},{"m":"AccSAGA","x":35.9,"y":3.162e-4},{"m":"AccSAGA","x":43.4,"y":1.148e-4},{"m":"AccSAGA","x":54.2,"y":3.802e-5},{"m":"AccSAGA","x":63.4,"y":1.738e-5},{"m":"AccSAGA","x":72.6,"y":6.918e-6},{"m":"AccSAGA","x":83.4,"y":3.090e-6},{"m":"AccSAGA","x":90.9,"y":1.380e-6},{"m":"AccSAGA","x":100.1,"y":5.623e-7},{"m":"AccSAGA","x":109.3,"y":2.512e-7},{"m":"AccSAGA","x":118.4,"y":1.023e-7},{"m":"AccSAGA","x":127.6,"y":4.169e-8},{"m":"AccSAGA","x":136.8,"y":1.514e-8},{"m":"AccSAGA","x":146.0,"y":7.586e-9},{"m":"AccSAGA","x":155.1,"y":3.388e-9},{"m":"AccSAGA","x":164.3,"y":1.514e-9},{"m":"AccSAGA","x":173.5,"y":8.318e-10},{"m":"AccSAGA","x":182.6,"y":4.467e-10},{"m":"AccSAGA","x":191.8,"y":2.455e-10},{"m":"AccSAGA","x":201.0,"y":1.230e-10},{"m":"AccSAGA","x":210.2,"y":6.761e-11},{"m":"AccSAGA","x":223.5,"y":3.311e-11},
{"m":"AccSGD","x":0,"y":0.3981},{"m":"AccSGD","x":7.4,"y":3.981e-2},{"m":"AccSGD","x":21.5,"y":1.950e-2},{"m":"AccSGD","x":47.4,"y":1.072e-2},{"m":"AccSGD","x":79.9,"y":5.888e-3},{"m":"AccSGD","x":112.5,"y":3.548e-3},{"m":"AccSGD","x":148,"y":2.138e-3},{"m":"AccSGD","x":177.6,"y":1.288e-3},{"m":"AccSGD","x":210.2,"y":8.710e-4},{"m":"AccSGD","x":242.7,"y":5.754e-4},{"m":"AccSGD","x":275.3,"y":4.266e-4},{"m":"AccSGD","x":307.8,"y":3.467e-4},{"m":"AccSGD","x":340.4,"y":2.884e-4},{"m":"AccSGD","x":367,"y":2.570e-4},
{"m":"AccSVRG","x":0,"y":0.6607},{"m":"AccSVRG","x":11.8,"y":3.548e-2},{"m":"AccSVRG","x":33.6,"y":5.248e-3},{"m":"AccSVRG","x":56.6,"y":1.288e-3},{"m":"AccSVRG","x":71.1,"y":6.457e-4},{"m":"AccSVRG","x":88.2,"y":1.905e-4},{"m":"AccSVRG","x":105.9,"y":8.511e-5},{"m":"AccSVRG","x":131.6,"y":3.162e-5},{"m":"AccSVRG","x":146.1,"y":1.413e-5},{"m":"AccSVRG","x":159.2,"y":9.333e-6},{"m":"AccSVRG","x":173.7,"y":3.802e-6},{"m":"AccSVRG","x":186.9,"y":2.818e-6},{"m":"AccSVRG","x":202.7,"y":1.023e-6},{"m":"AccSVRG","x":215.8,"y":7.586e-7},{"m":"AccSVRG","x":231.6,"y":3.548e-7},{"m":"AccSVRG","x":246.1,"y":2.512e-7},{"m":"AccSVRG","x":260.6,"y":1.259e-7},{"m":"AccSVRG","x":273.7,"y":8.318e-8},{"m":"AccSVRG","x":289.5,"y":4.786e-8},{"m":"AccSVRG","x":304.0,"y":3.388e-8},{"m":"AccSVRG","x":317.8,"y":1.862e-8},
{"m":"AccKat.","x":0,"y":0.6607},{"m":"AccKat.","x":32.7,"y":5.248e-3},{"m":"AccKat.","x":66.1,"y":7.079e-4},{"m":"AccKat.","x":103.4,"y":1.905e-4},{"m":"AccKat.","x":128.4,"y":8.511e-5},{"m":"AccKat.","x":154.1,"y":4.266e-5},{"m":"AccKat.","x":182.3,"y":1.905e-5},{"m":"AccKat.","x":210.6,"y":9.333e-6},{"m":"AccKat.","x":238.8,"y":4.169e-6},{"m":"AccKat.","x":267.1,"y":1.905e-6},{"m":"AccKat.","x":299.8,"y":9.333e-7}
]
},
"vconcat": [
 {"hconcat": [
  {"width": 464, "height": 392, "data": {"name": "p1"},
   "layer": [
    {"mark": {"type": "line", "strokeWidth": 3.5, "clip": true},
     "encoding": {
      "x": {"field": "x", "type": "quantitative", "scale": {"domain": [0, 536], "nice": false, "zero": false}, "axis": {"values": [0, 200, 400], "title": "Epoch"}},
      "y": {"field": "y", "type": "quantitative", "scale": {"type": "log", "domain": [8.71e-11, 0.479], "nice": false}, "axis": {"values": [1e-10, 1e-5], "labelExpr": "datum.value < 1e-7 ? '10⁻¹⁰' : '10⁻⁵'", "title": "f(x)\u2002−\u2002f(x*)", "titleFont": "Liberation Serif", "titleFontStyle": "italic", "titleFontSize": 40, "titlePadding": 15, "titleY": 218, "titleColor": "#000000"}},
      "color": {"field": "m", "type": "nominal", "scale": {"domain": ["SAGA","SGD","SVRG","Katyusha","AccSAGA","AccSGD","AccSVRG","AccKat."], "range": ["#9B9B9B","#FA7F42","#6E7A0E","#4DB5EA","#9B9B9B","#FA7F42","#6E7A0E","#4DB5EA"]}},
      "strokeDash": {"field": "m", "type": "nominal", "scale": {"domain": ["SAGA","SGD","SVRG","Katyusha","AccSAGA","AccSGD","AccSVRG","AccKat."], "range": [[15,5,5,5],[15,5,5,5],[15,5,5,5],[15,5,5,5],[1,0],[1,0],[1,0],[1,0]]}}
     }},
    {"mark": {"type": "line", "strokeOpacity": 0, "clip": true},
     "encoding": {
      "x": {"field": "x", "type": "quantitative", "scale": {"domain": [0, 536], "nice": false, "zero": false}, "axis": {"orient": "top", "values": [0, 200, 400], "labels": false, "title": null}},
      "y": {"field": "y", "type": "quantitative", "scale": {"type": "log", "domain": [8.71e-11, 0.479], "nice": false}, "axis": {"orient": "right", "values": [1e-10, 1e-5], "labels": false, "title": null}}
     }}
   ],
   "resolve": {"axis": {"x": "independent", "y": "independent"}}
  },
  {"width": 463, "height": 392, "data": {"name": "p2"},
   "layer": [
    {"mark": {"type": "line", "strokeWidth": 3.5, "clip": true},
     "encoding": {
      "x": {"field": "x", "type": "quantitative", "scale": {"domain": [0, 247], "nice": false, "zero": false}, "axis": {"values": [0, 50, 100, 150, 200], "title": "Time (sec)"}},
      "y": {"field": "y", "type": "quantitative", "scale": {"type": "log", "domain": [8.71e-11, 0.479], "nice": false}, "axis": {"values": [1e-10, 1e-5], "labelExpr": "datum.value < 1e-7 ? '10⁻¹⁰' : '10⁻⁵'", "title": null}},
      "color": {"field": "m", "type": "nominal", "scale": {"domain": ["SAGA","SGD","SVRG","Katyusha","AccSAGA","AccSGD","AccSVRG","AccKat."], "range": ["#9B9B9B","#FA7F42","#6E7A0E","#4DB5EA","#9B9B9B","#FA7F42","#6E7A0E","#4DB5EA"]}},
      "strokeDash": {"field": "m", "type": "nominal", "scale": {"domain": ["SAGA","SGD","SVRG","Katyusha","AccSAGA","AccSGD","AccSVRG","AccKat."], "range": [[15,5,5,5],[15,5,5,5],[15,5,5,5],[15,5,5,5],[1,0],[1,0],[1,0],[1,0]]}}
     }},
    {"mark": {"type": "line", "strokeOpacity": 0, "clip": true},
     "encoding": {
      "x": {"field": "x", "type": "quantitative", "scale": {"domain": [0, 247], "nice": false, "zero": false}, "axis": {"orient": "top", "values": [0, 50, 100, 150, 200], "labels": false, "title": null}},
      "y": {"field": "y", "type": "quantitative", "scale": {"type": "log", "domain": [8.71e-11, 0.479], "nice": false}, "axis": {"orient": "right", "values": [1e-10, 1e-5], "labels": false, "title": null}}
     }}
   ],
   "resolve": {"axis": {"x": "independent", "y": "independent"}}
  }
 ], "spacing": 68},
 {"hconcat": [
  {"width": 464, "height": 393, "data": {"name": "p3"},
   "layer": [
    {"mark": {"type": "line", "strokeWidth": 3.5, "clip": true},
     "encoding": {
      "x": {"field": "x", "type": "quantitative", "scale": {"domain": [0, 536], "nice": false, "zero": false}, "axis": {"values": [0, 200, 400], "title": "Epoch"}},
      "y": {"field": "y", "type": "quantitative", "scale": {"type": "log", "domain": [3.31e-11, 0.661], "nice": false}, "axis": {"values": [1e-10, 1e-5], "labelExpr": "datum.value < 1e-7 ? '10⁻¹⁰' : '10⁻⁵'", "title": "f(x)\u2002−\u2002f(x*)", "titleFont": "Liberation Serif", "titleFontStyle": "italic", "titleFontSize": 40, "titlePadding": 15, "titleY": 219, "titleColor": "#000000"}},
      "color": {"field": "m", "type": "nominal", "scale": {"domain": ["SAGA","SGD","SVRG","Katyusha","AccSAGA","AccSGD","AccSVRG","AccKat."], "range": ["#9B9B9B","#FA7F42","#6E7A0E","#4DB5EA","#9B9B9B","#FA7F42","#6E7A0E","#4DB5EA"]}},
      "strokeDash": {"field": "m", "type": "nominal", "scale": {"domain": ["SAGA","SGD","SVRG","Katyusha","AccSAGA","AccSGD","AccSVRG","AccKat."], "range": [[15,5,5,5],[15,5,5,5],[15,5,5,5],[15,5,5,5],[1,0],[1,0],[1,0],[1,0]]}}
     }},
    {"mark": {"type": "line", "strokeOpacity": 0, "clip": true},
     "encoding": {
      "x": {"field": "x", "type": "quantitative", "scale": {"domain": [0, 536], "nice": false, "zero": false}, "axis": {"orient": "top", "values": [0, 200, 400], "labels": false, "title": null}},
      "y": {"field": "y", "type": "quantitative", "scale": {"type": "log", "domain": [3.31e-11, 0.661], "nice": false}, "axis": {"orient": "right", "values": [1e-10, 1e-5], "labels": false, "title": null}}
     }}
   ],
   "resolve": {"axis": {"x": "independent", "y": "independent"}}
  },
  {"width": 464, "height": 393, "data": {"name": "p4"},
   "layer": [
    {"mark": {"type": "line", "strokeWidth": 3.5, "clip": true},
     "encoding": {
      "x": {"field": "x", "type": "quantitative", "scale": {"domain": [0, 382], "nice": false, "zero": false}, "axis": {"values": [0, 100, 200, 300], "title": "Time (sec)"}},
      "y": {"field": "y", "type": "quantitative", "scale": {"type": "log", "domain": [3.31e-11, 0.661], "nice": false}, "axis": {"values": [1e-10, 1e-5], "labelExpr": "datum.value < 1e-7 ? '10⁻¹⁰' : '10⁻⁵'", "title": null}},
      "color": {"field": "m", "type": "nominal", "scale": {"domain": ["SAGA","SGD","SVRG","Katyusha","AccSAGA","AccSGD","AccSVRG","AccKat."], "range": ["#9B9B9B","#FA7F42","#6E7A0E","#4DB5EA","#9B9B9B","#FA7F42","#6E7A0E","#4DB5EA"]}},
      "strokeDash": {"field": "m", "type": "nominal", "scale": {"domain": ["SAGA","SGD","SVRG","Katyusha","AccSAGA","AccSGD","AccSVRG","AccKat."], "range": [[15,5,5,5],[15,5,5,5],[15,5,5,5],[15,5,5,5],[1,0],[1,0],[1,0],[1,0]]}}
     }},
    {"mark": {"type": "line", "strokeOpacity": 0, "clip": true},
     "encoding": {
      "x": {"field": "x", "type": "quantitative", "scale": {"domain": [0, 382], "nice": false, "zero": false}, "axis": {"orient": "top", "values": [0, 100, 200, 300], "labels": false, "title": null}},
      "y": {"field": "y", "type": "quantitative", "scale": {"type": "log", "domain": [3.31e-11, 0.661], "nice": false}, "axis": {"orient": "right", "values": [1e-10, 1e-5], "labels": false, "title": null}}
     }}
   ],
   "resolve": {"axis": {"x": "independent", "y": "independent"}}
  }
 ], "spacing": 76}
],
"spacing": 24
}
